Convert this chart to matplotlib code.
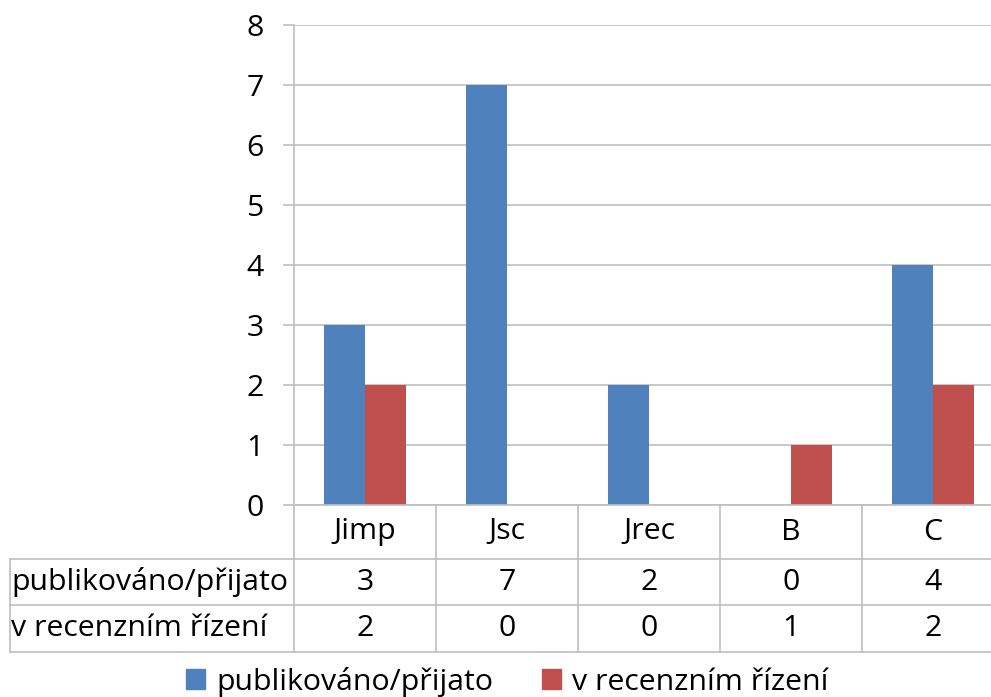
import matplotlib
matplotlib.use("Agg")
import matplotlib.pyplot as plt
from matplotlib.patches import Patch
import numpy as np

categories = ["Jimp", "Jsc", "Jrec", "B", "C"]
series_names = ["publikováno/přijato", "v recenzním řízení"]
published = [3, 7, 2, 0, 4]
in_review = [2, 0, 0, 1, 2]
colors = ["#4F81BD", "#C0504D"]
yticks = [0, 1, 2, 3, 4, 5, 6, 7, 8]

plt.rcParams['font.family'] = ['Open Sans', 'DejaVu Sans']
FS = 21.8
GRID = "#BFBFBF"

W, H = 991, 697
fig = plt.figure(figsize=(W / 100, H / 100), dpi=100)

def fx(px):
    return px / W

def fy(py):
    return 1 - py / H

left, right, top, bottom = 294, 1004, 25, 505
ax = fig.add_axes([fx(left), fy(bottom), fx(right - left), (bottom - top) / H])
x = np.arange(len(categories))
bw = 0.29
ax.bar(x - bw / 2, published, bw, color=colors[0], label=series_names[0], zorder=3)
ax.bar(x + bw / 2, in_review, bw, color=colors[1], label=series_names[1], zorder=3)
ax.set_xlim(-0.5, len(categories) - 0.5)
ax.set_ylim(0, 8)
ax.set_yticks(yticks)
ax.set_yticklabels([str(v) for v in yticks], fontsize=FS)
ax.set_xticks([])
ax.yaxis.grid(True, color=GRID, linewidth=1.2, zorder=0)
ax.tick_params(axis='y', length=11 * 0.72, width=1.2, color=GRID, pad=14)
for s in ["top", "right", "bottom"]:
    ax.spines[s].set_visible(False)
ax.spines["left"].set_color(GRID)
ax.spines["left"].set_linewidth(1.2)

# data table
tleft, tbottom = 10, 652
row_h = [54, 46, 47]  # header, row1, row2 (pixels)
tab = fig.add_axes([fx(tleft), fy(tbottom), fx(right - tleft), (tbottom - bottom) / H])
tab.set_xlim(-2.5, len(categories) - 0.5)
tab.set_ylim(-(tbottom - bottom), 0)
tab.axis("off")
y0 = 0
y1 = -row_h[0]
y2 = y1 - row_h[1]
y3 = y2 - row_h[2]
lw = 1.2
tab.plot([-0.5, len(categories) - 0.5], [y0, y0], color=GRID, lw=lw, clip_on=False)
for yy in (y1, y2, y3):
    tab.plot([-2.5, len(categories) - 0.5], [yy, yy], color=GRID, lw=lw, clip_on=False)
for i in range(len(categories) + 1):
    tab.plot([i - 0.5, i - 0.5], [y0, y3], color=GRID, lw=lw, clip_on=False)
tab.plot([-2.5, -2.5], [y1, y3], color=GRID, lw=lw, clip_on=False)

for i, c in enumerate(categories):
    tab.text(i, (y0 + y1) / 2, c, ha="center", va="center", fontsize=FS)
    tab.text(i, (y1 + y2) / 2, str(published[i]), ha="center", va="center", fontsize=FS)
    tab.text(i, (y2 + y3) / 2, str(in_review[i]), ha="center", va="center", fontsize=FS)
tab.text(-2.5 + 0.01, (y1 + y2) / 2, series_names[0], ha="left", va="center", fontsize=FS)
tab.text(-2.5 + 0.01, (y2 + y3) / 2, series_names[1], ha="left", va="center", fontsize=FS)

handles = [Patch(color=colors[0], label=series_names[0]),
           Patch(color=colors[1], label=series_names[1])]
fig.legend(handles=handles, loc="center", bbox_to_anchor=(fx(507), fy(682)), ncol=2,
           frameon=False, fontsize=FS, handlelength=0.65, handleheight=0.65,
           handletextpad=0.35, columnspacing=1.6, borderpad=0)

fig.savefig("out.png", dpi=100)
